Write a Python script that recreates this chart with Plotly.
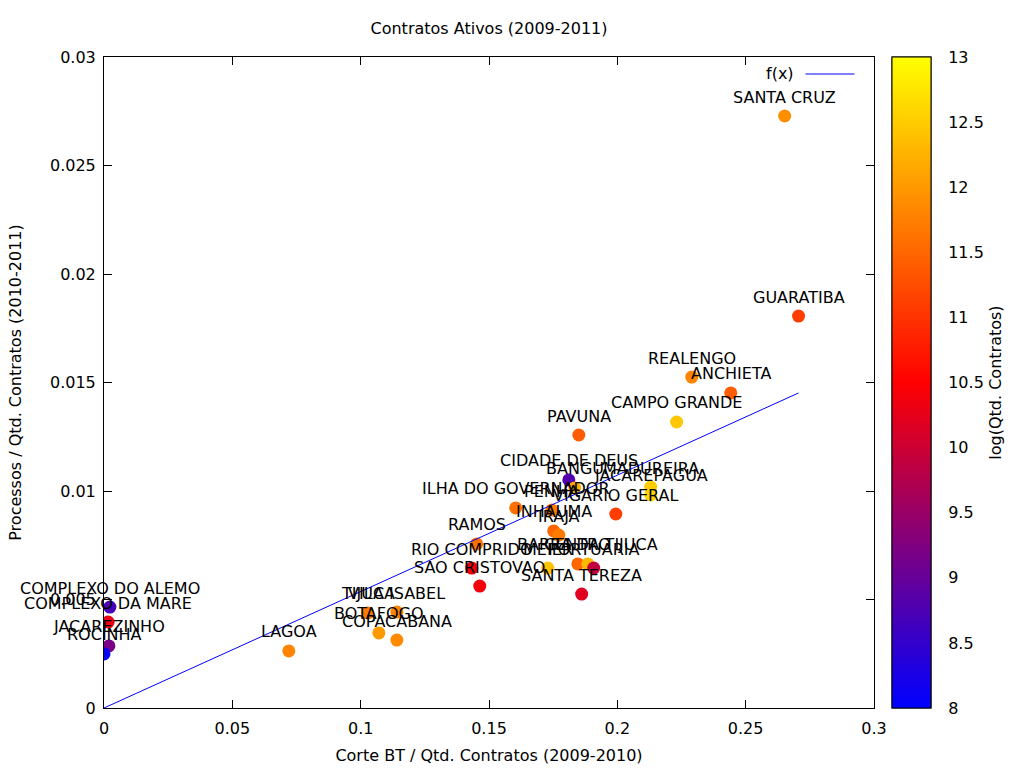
import plotly.graph_objects as go

# ---- data ----
names = [
    "SANTA CRUZ", "GUARATIBA", "REALENGO", "ANCHIETA", "CAMPO GRANDE", "PAVUNA",
    "CIDADE DE DEUS", "BANGU", "MADUREIRA", "JACAREPAGUA", "ILHA DO GOVERNADOR",
    "PENHA", "VIGARIO GERAL", "INHAUMA", "IRAJA", "RAMOS", "RIO COMPRIDO",
    "SAO CRISTOVAO", "MEIER", "CENTRO", "BARRA DA TIJUCA", "PORTUARIA",
    "SANTA TEREZA", "TIJUCA", "VILA ISABEL", "BOTAFOGO", "COPACABANA", "LAGOA",
    "COMPLEXO DO ALEMO", "COMPLEXO DA MARE", "JACAREZINHO", "ROCINHA",
]
corte_bt = [
    0.2652, 0.2706, 0.2290, 0.2442, 0.2231, 0.1850,
    0.1811, 0.1834, 0.2130, 0.2130, 0.1604,
    0.1745, 0.1994, 0.1752, 0.1772, 0.1452, 0.1433,
    0.1464, 0.1729, 0.1846, 0.1885, 0.1908,
    0.1861, 0.1028, 0.1141, 0.1071, 0.1141, 0.0720,
    0.0023, 0.0016, 0.0019, 0.0000,
]
processos = [
    0.02728, 0.01806, 0.01525, 0.01452, 0.01318, 0.01258,
    0.01051, 0.01014, 0.01018, 0.00982, 0.00922,
    0.00912, 0.00894, 0.00816, 0.00797, 0.00756, 0.00645,
    0.00562, 0.00645, 0.00664, 0.00664, 0.00645,
    0.00525, 0.00438, 0.00442, 0.00346, 0.00313, 0.00263,
    0.00465, 0.00396, 0.00286, 0.00249,
]
log_contratos = [
    11.9, 11.1, 11.8, 11.4, 12.45, 11.4,
    8.8, 12.2, 12.5, 12.6, 11.6,
    11.7, 11.1, 11.5, 11.7, 11.6, 10.4,
    10.4, 12.4, 11.5, 12.3, 9.9,
    10.2, 11.7, 11.8, 12.0, 11.85, 11.8,
    8.7, 10.3, 9.2, 8.1,
]
fit_slope = 0.05365
fit_x = [0.0, 0.2706]
fit_y = [fit_slope * v for v in fit_x]

x_ticks = [0, 0.05, 0.1, 0.15, 0.2, 0.25, 0.3]
x_ticktext = ["0", "0.05", "0.1", "0.15", "0.2", "0.25", "0.3"]
y_ticks = [0, 0.005, 0.01, 0.015, 0.02, 0.025, 0.03]
y_ticktext = ["0", "0.005", "0.01", "0.015", "0.02", "0.025", "0.03"]
cb_ticks = [8, 8.5, 9, 9.5, 10, 10.5, 11, 11.5, 12, 12.5, 13]
cb_ticktext = ["8", "8.5", "9", "9.5", "10", "10.5", "11", "11.5", "12", "12.5", "13"]

FONT = "DejaVu Sans"
FS = 16
palette = [[0.0, "rgb(0,0,255)"], [0.5, "rgb(255,0,0)"], [1.0, "rgb(255,255,0)"]]

# plot-area geometry in pixels
L, R, T, B = 104, 874.5, 57, 708
W = R - L
CB_X = (893 - L) / W

cb_common = dict(x=CB_X, xanchor="left", xpad=0, ypad=0, y=0.5, yanchor="middle",
                 len=1.0, lenmode="fraction", thickness=39, thicknessmode="pixels",
                 outlinecolor="black", outlinewidth=1,
                 tickmode="array", tickvals=cb_ticks, ticktext=cb_ticktext)

fig = go.Figure()

# main scatter: colorbar with inward ticks, no labels
fig.add_trace(go.Scatter(
    x=corte_bt, y=processos, mode="markers",
    marker=dict(size=13, color=log_contratos, colorscale=palette, cmin=8, cmax=13,
                line=dict(width=0),
                colorbar=dict(ticks="inside", ticklen=9, tickcolor="black",
                              showticklabels=False, **cb_common)),
    showlegend=False, hoverinfo="text", text=names,
))

# same points, invisible: carries the colorbar's labels and title
fig.add_trace(go.Scatter(
    x=corte_bt, y=processos, mode="markers",
    marker=dict(size=13, opacity=0, color=log_contratos, colorscale=palette,
                cmin=8, cmax=13, line=dict(width=0),
                colorbar=dict(ticks="outside", ticklen=14, tickcolor="rgba(0,0,0,0)",
                              tickfont=dict(family=FONT, size=FS, color="black"),
                              title=dict(text="log(Qtd. Contratos)", side="right",
                                         font=dict(family=FONT, size=FS, color="black")),
                              **cb_common)),
    showlegend=False, hoverinfo="skip",
))

fig.add_trace(go.Scatter(
    x=fit_x, y=fit_y, mode="lines", line=dict(color="rgb(0,0,255)", width=1),
    name="f(x)", showlegend=False,
))

for n, xv, yv in zip(names, corte_bt, processos):
    fig.add_annotation(x=xv, y=yv, xref="x", yref="y", text=n, showarrow=False,
                       yshift=19, xanchor="center", yanchor="middle",
                       font=dict(family=FONT, size=FS, color="black"))

# legend key (gnuplot style: text left, sample right)
fig.add_annotation(x=(796 - L) / W, y=(B - 74) / (B - T), xref="paper", yref="paper",
                   text="f(x)", showarrow=False, xanchor="right", yanchor="middle",
                   font=dict(family=FONT, size=FS, color="black"))
fig.add_shape(type="line", xref="paper", yref="paper",
              x0=(806 - L) / W, x1=(855 - L) / W,
              y0=(B - 74) / (B - T), y1=(B - 74) / (B - T),
              line=dict(color="rgb(0,0,255)", width=1))

axis_common = dict(showline=True, linecolor="black", linewidth=1, mirror="allticks",
                   ticks="inside", ticklen=8, tickcolor="black", showgrid=False,
                   zeroline=False, automargin=False,
                   tickfont=dict(family=FONT, size=FS, color="black"))

fig.update_layout(
    width=1024, height=768,
    margin=dict(l=L, r=1024 - R, t=T, b=768 - B, autoexpand=False),
    paper_bgcolor="white", plot_bgcolor="white",
    title=dict(text="Contratos Ativos (2009-2011)", x=0.5, xref="paper",
               y=1 - 28 / 768, yref="container", xanchor="center", yanchor="middle",
               font=dict(family=FONT, size=FS, color="black")),
    xaxis=dict(range=[0, 0.3], tickmode="array", tickvals=x_ticks, ticktext=x_ticktext,
               title=dict(text="Corte BT / Qtd. Contratos (2009-2010)", standoff=12,
                          font=dict(family=FONT, size=FS, color="black")),
               ticklabelstandoff=6, **axis_common),
    yaxis=dict(range=[0, 0.03], tickmode="array", tickvals=y_ticks, ticktext=y_ticktext,
               title=dict(text="Processos / Qtd. Contratos (2010-2011)", standoff=24,
                          font=dict(family=FONT, size=FS, color="black")),
               ticklabelstandoff=4, **axis_common),
)

fig.write_html("out.html", config={"displayModeBar": False},
               post_script="document.body.style.margin='0';")
